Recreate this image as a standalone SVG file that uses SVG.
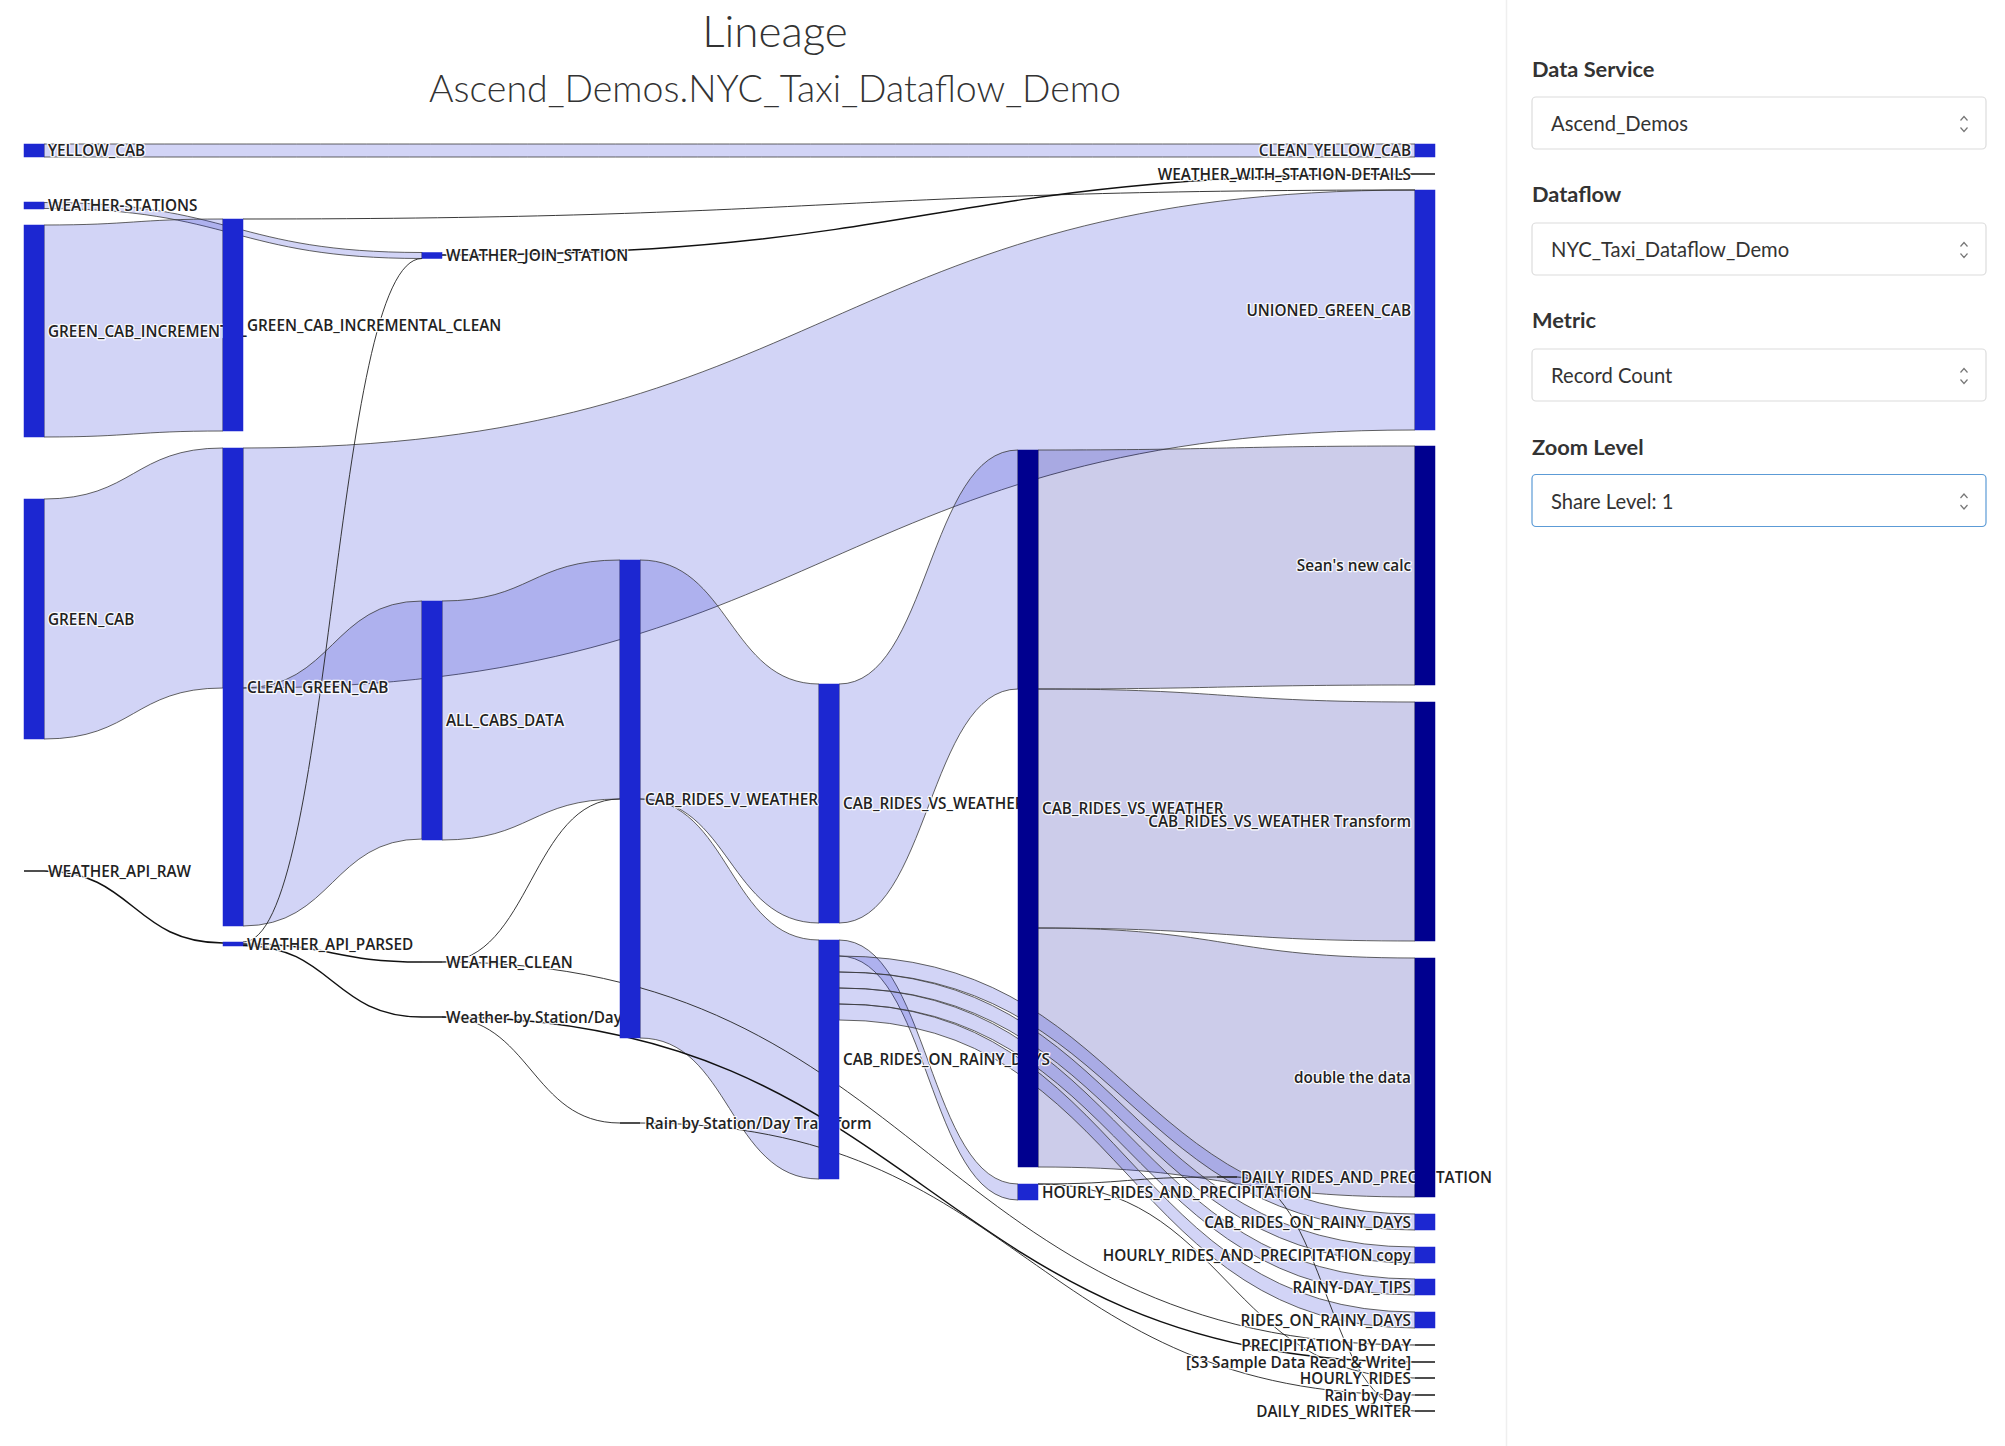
<svg xmlns="http://www.w3.org/2000/svg" width="2005" height="1446" viewBox="0 0 2005 1446">
<defs>
<style>
.nb{fill:#1c27d1;stroke:#1c27d1;stroke-width:0.5}
.nd{fill:#00008f;stroke:#00008f;stroke-width:0.5}
.nz{stroke:#222;stroke-width:1.6;fill:none}
.bb{fill:rgba(28,39,209,0.2);stroke:#3a3a3a;stroke-width:0.8}
.bd{fill:rgba(0,0,150,0.2);stroke:#3a3a3a;stroke-width:0.8}
.ln{fill:none;stroke:#222;stroke-width:0.9}
.lt{fill:none;stroke:#111;stroke-width:1.5}
.t{font-family:"Open Sans","Liberation Sans",sans-serif;font-size:15.3px;font-weight:600;fill:#222;stroke:#fff;stroke-width:2.6px;stroke-opacity:0.9;paint-order:stroke;stroke-linejoin:round}
.r{text-anchor:end}
.h1{font-family:Lato,"Open Sans",sans-serif;font-weight:300;fill:#333;text-anchor:middle}
.pl{font-family:Lato,"Open Sans",sans-serif;font-weight:700;font-size:21.8px;fill:#333}
.sv{font-family:Lato,"Open Sans",sans-serif;font-weight:400;font-size:20.2px;fill:#333}
.box{fill:#fff;stroke:#dcdcdc;stroke-width:1.2}
.chev{fill:none;stroke:#777;stroke-width:1.2}
</style>
</defs>
<rect x="0" y="0" width="2005" height="1446" fill="#fff"/>
<g id="titles">
<text class="h1" x="775" y="47" font-size="44">Lineage</text>
<text class="h1" x="775" y="102" font-size="37.5">Ascend_Demos.NYC_Taxi_Dataflow_Demo</text>
</g>
<g id="links">
<path class="bb" d="M44,144C729.5,144 729.5,144 1415,144L1415,157C729.5,157 729.5,157 44,157Z"/>
<path class="bb" d="M44,202.5C233,202.5 233,252.5 422,252.5L422,258.5C233,258.5 233,208.5 44,208.5Z"/>
<path class="bb" d="M44,225C133.5,225 133.5,219 223,219L223,431C133.5,431 133.5,437 44,437Z"/>
<path class="bb" d="M44,499C133.5,499 133.5,448 223,448L223,688C133.5,688 133.5,739 44,739Z"/>
<path class="bb" d="M243,448C829,448 829,190 1415,190L1415,430C829,430 829,688 243,688Z"/>
<path class="bb" d="M243,688C332.5,688 332.5,601 422,601L422,839C332.5,839 332.5,926 243,926Z"/>
<path class="bb" d="M442,601C531,601 531,560 620,560L620,799C531,799 531,840 442,840Z"/>
<path class="bb" d="M640,560C729.5,560 729.5,684 819,684L819,923C729.5,923 729.5,799 640,799Z"/>
<path class="bb" d="M640,799C729.5,799 729.5,940 819,940L819,1179C729.5,1179 729.5,1038 640,1038Z"/>
<path class="bb" d="M839,684C928.5,684 928.5,450 1018,450L1018,689C928.5,689 928.5,923 839,923Z"/>
<path class="bd" d="M1038,450C1226.5,450 1226.5,446 1415,446L1415,685C1226.5,685 1226.5,689 1038,689Z"/>
<path class="bd" d="M1038,689C1226.5,689 1226.5,702 1415,702L1415,941C1226.5,941 1226.5,928 1038,928Z"/>
<path class="bd" d="M1038,928C1226.5,928 1226.5,958 1415,958L1415,1197C1226.5,1197 1226.5,1167 1038,1167Z"/>
<path class="bb" d="M839,940C928.5,940 928.5,1184 1018,1184L1018,1200C928.5,1200 928.5,956 839,956Z"/>
<path class="bb" d="M839,956C1127,956 1127,1214 1415,1214L1415,1230C1127,1230 1127,972 839,972Z"/>
<path class="bb" d="M839,972C1127,972 1127,1247 1415,1247L1415,1263C1127,1263 1127,988 839,988Z"/>
<path class="bb" d="M839,988C1127,988 1127,1279 1415,1279L1415,1295C1127,1295 1127,1004 839,1004Z"/>
<path class="bb" d="M839,1004C1127,1004 1127,1312 1415,1312L1415,1328C1127,1328 1127,1020 839,1020Z"/>
<path class="ln" d="M243,219C829,219 829,190 1415,190"/>
<path class="ln" d="M442,962C531,962 531,799 620,799"/>
<path class="ln" d="M1038,1184C1127.5,1184 1127.5,1177 1217,1177"/>
<path class="ln" d="M1038,1184C1226.5,1184 1226.5,1378 1415,1378"/>
<path class="ln" d="M1237,1177C1326,1177 1326,1411 1415,1411"/>
<path class="ln" d="M442,962C928.5,962 928.5,1345 1415,1345"/>
<path class="lt" d="M442,1017C928.5,1017 928.5,1362 1415,1362"/>
<path class="ln" d="M442,1017C531,1017 531,1123 620,1123"/>
<path class="ln" d="M640,1123C1027.5,1123 1027.5,1395 1415,1395"/>
<path class="lt" d="M243,944C332.5,944 332.5,962 422,962"/>
<path class="lt" d="M243,945.5C332.5,945.5 332.5,1017 422,1017"/>
<path class="ln" d="M243,942C332.5,942 332.5,258.5 422,258.5"/>
<path class="lt" d="M44,871C133.5,871 133.5,943 223,943"/>
<path class="lt" d="M442,255C928.5,255 928.5,174 1415,174"/>
</g>
<g id="node-yellow-cab"><rect class="nb" x="24" y="144" width="20" height="13"/><text class="t" x="48" y="156">YELLOW_CAB</text></g>
<g id="node-weather-stations"><rect class="nb" x="24" y="202" width="20" height="7"/><text class="t" x="48" y="211">WEATHER-STATIONS</text></g>
<g id="node-green-cab-incremental"><rect class="nb" x="24" y="225" width="20" height="212"/><text class="t" x="48" y="336.5">GREEN_CAB_INCREMENTAL</text></g>
<g id="node-green-cab"><rect class="nb" x="24" y="499" width="20" height="240"/><text class="t" x="48" y="624.5">GREEN_CAB</text></g>
<g id="node-weather-api-raw"><line class="nz" x1="24" y1="871" x2="44" y2="871"/><text class="t" x="48" y="876.5">WEATHER_API_RAW</text></g>
<g id="node-green-cab-incremental-clean"><rect class="nb" x="223" y="219" width="20" height="212"/><text class="t" x="247" y="330.5">GREEN_CAB_INCREMENTAL_CLEAN</text></g>
<g id="node-clean-green-cab"><rect class="nb" x="223" y="448" width="20" height="478"/><text class="t" x="247" y="692.5">CLEAN_GREEN_CAB</text></g>
<g id="node-weather-api-parsed"><rect class="nb" x="223" y="942" width="20" height="4"/><text class="t" x="247" y="949.5">WEATHER_API_PARSED</text></g>
<g id="node-weather-join-station"><rect class="nb" x="422" y="252.5" width="20" height="6"/><text class="t" x="446" y="261">WEATHER_JOIN_STATION</text></g>
<g id="node-all-cabs-data"><rect class="nb" x="422" y="601" width="20" height="239"/><text class="t" x="446" y="726">ALL_CABS_DATA</text></g>
<g id="node-weather-clean"><line class="nz" x1="422" y1="962" x2="442" y2="962"/><text class="t" x="446" y="967.5">WEATHER_CLEAN</text></g>
<g id="node-weather-by-station-day"><line class="nz" x1="422" y1="1017" x2="442" y2="1017"/><text class="t" x="446" y="1022.5">Weather by Station/Day</text></g>
<g id="node-cab-rides-v-weather"><rect class="nb" x="620" y="560" width="20" height="478"/><text class="t" x="645" y="804.5">CAB_RIDES_V_WEATHER</text></g>
<g id="node-rain-by-station-day-transform"><line class="nz" x1="620" y1="1123" x2="640" y2="1123"/><text class="t" x="645" y="1128.5">Rain by Station/Day Transform</text></g>
<g id="node-cab-rides-vs-weather-1"><rect class="nb" x="819" y="684" width="20" height="239"/><text class="t" x="843" y="809">CAB_RIDES_VS_WEATHER</text></g>
<g id="node-cab-rides-on-rainy-days-1"><rect class="nb" x="819" y="940" width="20" height="239"/><text class="t" x="843" y="1065">CAB_RIDES_ON_RAINY_DAYS</text></g>
<g id="node-cab-rides-vs-weather-2"><rect class="nd" x="1018" y="450" width="20" height="717"/><text class="t" x="1042" y="814">CAB_RIDES_VS_WEATHER</text></g>
<g id="node-hourly-rides-and-precipitation"><rect class="nb" x="1018" y="1184" width="20" height="16"/><text class="t" x="1042" y="1197.5">HOURLY_RIDES_AND_PRECIPITATION</text></g>
<g id="node-daily-rides-and-precipitation"><line class="nz" x1="1217" y1="1177" x2="1237" y2="1177"/><text class="t" x="1241" y="1182.5">DAILY_RIDES_AND_PRECIPITATION</text></g>
<g id="node-clean-yellow-cab"><rect class="nb" x="1415" y="144" width="20" height="13"/><text class="t r" x="1411" y="156">CLEAN_YELLOW_CAB</text></g>
<g id="node-weather-with-station-details"><line class="nz" x1="1415" y1="174" x2="1435" y2="174"/><text class="t r" x="1411" y="179.5">WEATHER_WITH_STATION-DETAILS</text></g>
<g id="node-unioned-green-cab"><rect class="nb" x="1415" y="190" width="20" height="240"/><text class="t r" x="1411" y="315.5">UNIONED_GREEN_CAB</text></g>
<g id="node-seans-new-calc"><rect class="nd" x="1415" y="446" width="20" height="239"/><text class="t r" x="1411" y="571">Sean's new calc</text></g>
<g id="node-cab-rides-vs-weather-transform"><rect class="nd" x="1415" y="702" width="20" height="239"/><text class="t r" x="1411" y="827">CAB_RIDES_VS_WEATHER Transform</text></g>
<g id="node-double-the-data"><rect class="nd" x="1415" y="958" width="20" height="239"/><text class="t r" x="1411" y="1083">double the data</text></g>
<g id="node-cab-rides-on-rainy-days-2"><rect class="nb" x="1415" y="1214" width="20" height="16"/><text class="t r" x="1411" y="1227.5">CAB_RIDES_ON_RAINY_DAYS</text></g>
<g id="node-hourly-rides-and-precipitation-copy"><rect class="nb" x="1415" y="1247" width="20" height="16"/><text class="t r" x="1411" y="1260.5">HOURLY_RIDES_AND_PRECIPITATION copy</text></g>
<g id="node-rainy-day-tips"><rect class="nb" x="1415" y="1279" width="20" height="16"/><text class="t r" x="1411" y="1292.5">RAINY-DAY_TIPS</text></g>
<g id="node-rides-on-rainy-days"><rect class="nb" x="1415" y="1312" width="20" height="16"/><text class="t r" x="1411" y="1325.5">RIDES_ON_RAINY_DAYS</text></g>
<g id="node-precipitation-by-day"><line class="nz" x1="1415" y1="1345" x2="1435" y2="1345"/><text class="t r" x="1411" y="1350.5">PRECIPITATION BY DAY</text></g>
<g id="node-s3-sample"><line class="nz" x1="1415" y1="1362" x2="1435" y2="1362"/><text class="t r" x="1411" y="1367.5">[S3 Sample Data Read &amp; Write]</text></g>
<g id="node-hourly-rides"><line class="nz" x1="1415" y1="1378" x2="1435" y2="1378"/><text class="t r" x="1411" y="1383.5">HOURLY_RIDES</text></g>
<g id="node-rain-by-day"><line class="nz" x1="1415" y1="1395" x2="1435" y2="1395"/><text class="t r" x="1411" y="1400.5">Rain by Day</text></g>
<g id="node-daily-rides-writer"><line class="nz" x1="1415" y1="1411" x2="1435" y2="1411"/><text class="t r" x="1411" y="1416.5">DAILY_RIDES_WRITER</text></g>
<g id="panel">
<line x1="1506.5" y1="0" x2="1506.5" y2="1446" stroke="#efefef" stroke-width="1.5"/>
<text class="pl" x="1532" y="77">Data Service</text>
<rect class="box" x="1532" y="97" width="454" height="52" rx="4"/>
<text class="sv" x="1551" y="131">Ascend_Demos</text>
<path class="chev" d="M1960.5,120.5l3.5,-4l3.5,4M1960.5,127.5l3.5,4l3.5,-4"/>
<text class="pl" x="1532" y="202">Dataflow</text>
<rect class="box" x="1532" y="223" width="454" height="52" rx="4"/>
<text class="sv" x="1551" y="257">NYC_Taxi_Dataflow_Demo</text>
<path class="chev" d="M1960.5,246.5l3.5,-4l3.5,4M1960.5,253.5l3.5,4l3.5,-4"/>
<text class="pl" x="1532" y="328">Metric</text>
<rect class="box" x="1532" y="349" width="454" height="52" rx="4"/>
<text class="sv" x="1551" y="383">Record Count</text>
<path class="chev" d="M1960.5,372.5l3.5,-4l3.5,4M1960.5,379.5l3.5,4l3.5,-4"/>
<text class="pl" x="1532" y="455">Zoom Level</text>
<rect class="box" x="1532" y="474.5" width="454" height="52" rx="4" style="stroke:#5c9bd6"/>
<text class="sv" x="1551" y="509">Share Level: 1</text>
<path class="chev" d="M1960.5,498l3.5,-4l3.5,4M1960.5,505l3.5,4l3.5,-4"/>
</g>
</svg>
